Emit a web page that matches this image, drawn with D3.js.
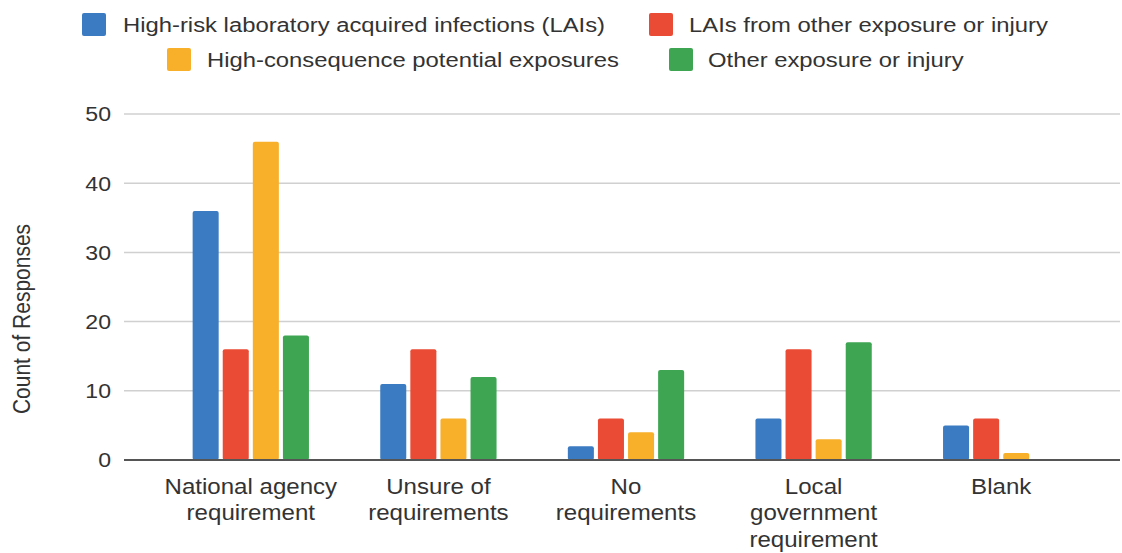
<!DOCTYPE html>
<html>
<head>
<meta charset="utf-8">
<script src="https://cdn.jsdelivr.net/npm/d3@7"></script>
<style>
  body { margin: 0; background: #fff; }
  text { font-family: "Liberation Sans", Arial, sans-serif; fill: #333; }
</style>
</head>
<body>
<div id="chart"></div>
<script>
const width = 1122, height = 553;

// data
const categories = ["National agency requirement", "Unsure of requirements", "No requirements", "Local government requirement", "Blank"];
const categoryLines = [["National agency", "requirement"], ["Unsure of", "requirements"], ["No", "requirements"], ["Local", "government", "requirement"], ["Blank"]];
const seriesNames = ["High-risk laboratory acquired infections (LAIs)", "LAIs from other exposure or injury", "High-consequence potential exposures", "Other exposure or injury"];
const seriesColors = ["#3b7bc1", "#ea4b35", "#f8b02b", "#3ea653"];
const highRiskLAIs = [36, 11, 2, 6, 5];
const otherLAIs = [16, 16, 6, 16, 6];
const highConsequence = [46, 6, 4, 3, 1];
const otherExposure = [18, 12, 13, 17, 0];
const yTicks = [0, 10, 20, 30, 40, 50];

const seriesValues = [highRiskLAIs, otherLAIs, highConsequence, otherExposure];

// the source image is a little stretched sideways, so text gets the same stretch
const stretch = 1.12;

const svg = d3.select("#chart").append("svg")
    .attr("width", width)
    .attr("height", height);

const gridLeft = 124, gridRight = 1120;

const x = d3.scaleBand()
    .domain(categories)
    .range([157, 1095])
    .paddingInner(0.38)
    .paddingOuter(0.19);

const xSeries = d3.scaleBand()
    .domain(seriesNames)
    .range([0, x.bandwidth()])
    .paddingInner(0.135);

const y = d3.scaleLinear()
    .domain([0, 50])
    .range([460, 114]);

// gridlines
svg.append("g")
    .selectAll("line")
    .data(yTicks.filter(d => d > 0))
    .enter().append("line")
    .attr("x1", gridLeft)
    .attr("x2", gridRight)
    .attr("y1", d => y(d))
    .attr("y2", d => y(d))
    .attr("stroke", "#d0d0d0")
    .attr("stroke-width", 1.5);

// y tick labels
svg.append("g")
    .selectAll("text")
    .data(yTicks)
    .enter().append("text")
    .attr("transform", d => `translate(111,${y(d)}) scale(1.1,1)`)
    .attr("dy", "0.35em")
    .attr("text-anchor", "end")
    .style("font-size", "21px")
    .text(d => d);

// y axis title
svg.append("text")
    .attr("transform", `translate(30, 319) scale(${stretch},1) rotate(-90)`)
    .attr("text-anchor", "middle")
    .style("font-size", "21px")
    .text("Count of Responses");

// bars
const groups = svg.append("g")
    .selectAll("g")
    .data(categories)
    .enter().append("g")
    .attr("transform", d => `translate(${x(d)},0)`);

groups.selectAll("rect")
    .data((d, i) => seriesNames.map((s, j) => ({ series: s, value: seriesValues[j][i], color: seriesColors[j] })))
    .enter().append("rect")
    .filter(d => d.value > 0)
    .attr("x", d => xSeries(d.series))
    .attr("y", d => y(d.value))
    .attr("width", xSeries.bandwidth())
    .attr("height", d => y(0) - y(d.value))
    .attr("rx", 2)
    .attr("fill", d => d.color);

// baseline
svg.append("line")
    .attr("x1", gridLeft)
    .attr("x2", gridRight)
    .attr("y1", y(0))
    .attr("y2", y(0))
    .attr("stroke", "#555")
    .attr("stroke-width", 2);

// category labels
const labels = svg.append("g")
    .selectAll("text")
    .data(categories)
    .enter().append("text")
    .attr("text-anchor", "middle")
    .attr("transform", d => `translate(${x(d) + x.bandwidth() / 2},494) scale(${stretch},1)`)
    .style("font-size", "21.5px");

labels.selectAll("tspan")
    .data((d, i) => categoryLines[i])
    .enter().append("tspan")
    .attr("x", 0)
    .attr("y", (d, i) => i * 26.5)
    .text(d => d);

// legend
const legendItems = [
    { name: seriesNames[0], color: seriesColors[0], x: 82, tx: 123, y: 25 },
    { name: seriesNames[1], color: seriesColors[1], x: 649, tx: 689, y: 25 },
    { name: seriesNames[2], color: seriesColors[2], x: 167, tx: 207, y: 60 },
    { name: seriesNames[3], color: seriesColors[3], x: 669, tx: 708, y: 60 }
];

const legend = svg.append("g").attr("id", "legend");
const item = legend.selectAll("g")
    .data(legendItems)
    .enter().append("g");

item.append("rect")
    .attr("x", d => d.x)
    .attr("y", d => d.y - 12)
    .attr("width", 24)
    .attr("height", 23)
    .attr("rx", 2)
    .attr("fill", d => d.color);

item.append("text")
    .attr("transform", d => `translate(${d.tx},${d.y}) scale(1.135,1)`)
    .attr("dy", "0.35em")
    .style("font-size", "21px")
    .text(d => d.name);
</script>
</body>
</html>
